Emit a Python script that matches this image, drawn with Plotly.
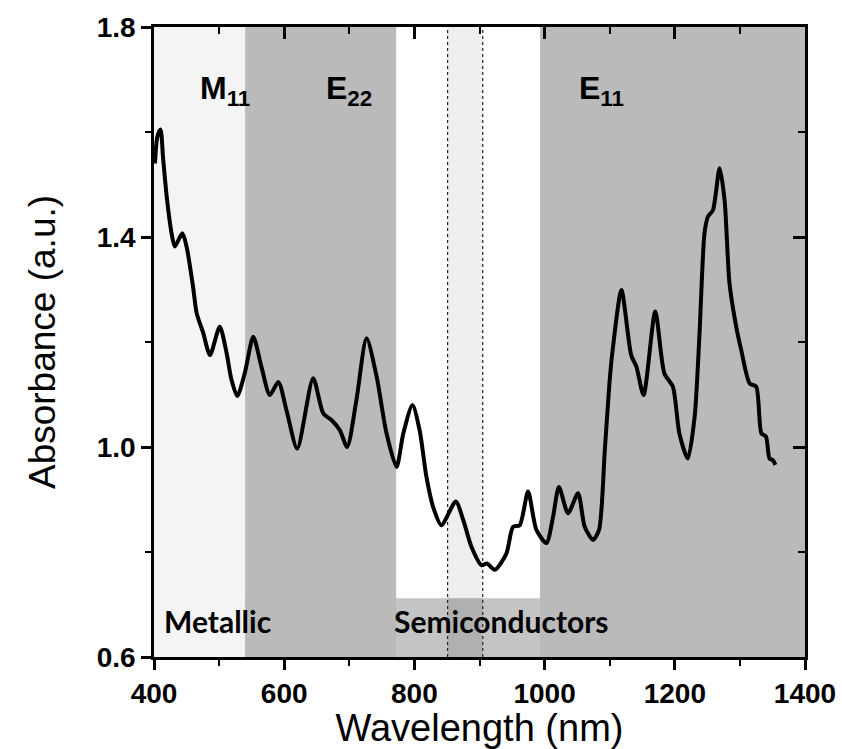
import plotly.graph_objects as go

# ---- data ----
wavelength = [401.5, 405, 410, 414, 419.5, 427, 432, 443.5, 450, 460, 465.5, 475.7, 486, 501,
              511.5, 519, 528, 539.5, 552.5, 565, 578, 591, 603.5, 620, 644.5, 660, 673, 685.5,
              696.7, 711, 726.5, 742, 757, 772.5, 783, 797, 808, 818.5, 828.7, 841.5, 863.5,
              875, 887.6, 903, 911.6, 923.4, 941.3, 951.5, 961.8, 974.6, 987.4, 1002.8, 1013,
              1022, 1036, 1051.4, 1061.6, 1074.4, 1083.6, 1092.5, 1100, 1105, 1118, 1133, 1141,
              1152, 1170, 1184, 1197, 1207, 1220, 1230.5, 1238, 1245.6, 1251, 1258.6, 1268.8,
              1276.5, 1284, 1294.4, 1302, 1315, 1325, 1333, 1340, 1345.5, 1350.6, 1354.6]
absorbance = [1.54, 1.59, 1.605, 1.55, 1.477, 1.407, 1.382, 1.407, 1.382, 1.305, 1.255, 1.217,
              1.175, 1.229, 1.179, 1.128, 1.097, 1.141, 1.210, 1.153, 1.099, 1.124, 1.070, 0.997,
              1.131, 1.064, 1.051, 1.032, 1.000, 1.090, 1.207, 1.134, 1.027, 0.962, 1.026, 1.080,
              1.032, 0.943, 0.886, 0.851, 0.896, 0.861, 0.810, 0.775, 0.778, 0.766, 0.797, 0.848,
              0.851, 0.915, 0.842, 0.817, 0.867, 0.924, 0.874, 0.912, 0.848, 0.823, 0.842, 0.994,
              1.128, 1.19, 1.299, 1.175, 1.153, 1.099, 1.258, 1.140, 1.115, 1.026, 0.978, 1.058,
              1.217, 1.407, 1.439, 1.451, 1.531, 1.470, 1.312, 1.229, 1.185, 1.121, 1.115, 1.026,
              1.020, 0.978, 0.975, 0.966]

# shaded spectral regions (nm)
metallic_region = [400, 540]
e22_region = [540, 772]
dotted_region = [851, 905]
e11_region = [993, 1400]
semi_band = [540, 1400]
semi_band_top = 0.712

x_range = [400, 1400]
y_range = [0.6, 1.8]
x_ticks = [400, 600, 800, 1000, 1200, 1400]
y_ticks = [0.6, 1.0, 1.4, 1.8]
y_tick_text = ["0.6", "1.0", "1.4", "1.8"]

region_labels = [
    ("M<sub>11</sub>", 467, 1.68),
    ("E<sub>22</sub>", 661, 1.68),
    ("E<sub>11</sub>", 1050, 1.68),
]
band_labels = [("Metallic", 412, 0.668), ("Semiconductors", 765, 0.668)]

fig = go.Figure()

shapes = []
def rect(x0, x1, y0, y1, color):
    shapes.append(dict(type="rect", xref="x", yref="y", x0=x0, x1=x1, y0=y0, y1=y1,
                       fillcolor=color, line=dict(width=0), layer="below"))

rect(metallic_region[0], metallic_region[1], y_range[0], y_range[1], "#f4f4f4")
rect(semi_band[0], semi_band[1], y_range[0], semi_band_top, "#c4c4c4")
rect(e22_region[0], e22_region[1], y_range[0], y_range[1], "#bababa")
rect(e11_region[0], e11_region[1], y_range[0], y_range[1], "#bababa")
rect(dotted_region[0], dotted_region[1], semi_band_top, y_range[1], "#eeeeee")
rect(dotted_region[0], dotted_region[1], y_range[0], semi_band_top, "#b0b0b0")
for xv in dotted_region:
    shapes.append(dict(type="line", xref="x", yref="y", x0=xv, x1=xv, y0=y_range[0], y1=y_range[1],
                       line=dict(color="#222", width=1.2, dash="dot"), layer="below"))

fig.add_trace(go.Scatter(x=wavelength, y=absorbance, mode="lines",
                         line=dict(color="black", width=4, shape="spline", smoothing=0.7),
                         showlegend=False, hoverinfo="skip"))
# invisible trace for mirror axes
fig.add_trace(go.Scatter(x=[x_range[0]], y=[y_range[0]], xaxis="x2", yaxis="y2",
                         mode="markers", marker=dict(opacity=0), showlegend=False, hoverinfo="skip"))

annotations = []
for txt, xv, yv in region_labels:
    annotations.append(dict(x=xv, y=yv, xref="x", yref="y", text=txt, showarrow=False,
                            xanchor="left", yanchor="middle",
                            font=dict(family="Liberation Sans", size=32, color="black", weight="bold")))
for txt, xv, yv in band_labels:
    annotations.append(dict(x=xv, y=yv, xref="x", yref="y", text=txt, showarrow=False,
                            xanchor="left", yanchor="middle",
                            font=dict(family="Lato", size=30, color="black", weight="bold")))

tickfont = dict(family="Liberation Sans", size=28, color="black", weight="bold")
fig.update_layout(
    width=842, height=749,
    margin=dict(l=154, r=37, t=27, b=92),
    paper_bgcolor="white", plot_bgcolor="white",
    shapes=shapes, annotations=annotations,
    xaxis=dict(range=x_range, tickvals=x_ticks, ticks="outside", ticklen=10, tickwidth=2.5,
               tickcolor="black", showline=True, linewidth=2.5, linecolor="black",
               showgrid=False, zeroline=False, tickfont=tickfont, automargin=False,
               minor=dict(tickvals=[500, 700, 900, 1100, 1300], ticks="outside", ticklen=6,
                          tickwidth=2, tickcolor="black"),
               title=dict(text="Wavelength (nm)", standoff=8,
                          font=dict(family="Liberation Sans", size=38, color="black"))),
    yaxis=dict(range=y_range, tickvals=y_ticks, ticktext=y_tick_text, ticks="outside", ticklen=10,
               tickwidth=2.5, tickcolor="black", showline=True, linewidth=2.5, linecolor="black",
               showgrid=False, zeroline=False, tickfont=tickfont, automargin=False,
               minor=dict(tickvals=[0.8, 1.2, 1.6], ticks="outside", ticklen=6, tickwidth=2,
                          tickcolor="black"),
               title=dict(text="Absorbance (a.u.)", standoff=30,
                          font=dict(family="Liberation Sans", size=37, color="black"))),
    xaxis2=dict(range=x_range, overlaying="x", side="top", tickvals=x_ticks, ticks="inside",
                ticklen=12, tickwidth=2.5, tickcolor="black", showline=True, linewidth=2.5,
                linecolor="black", showgrid=False, zeroline=False, showticklabels=False,
                automargin=False,
                minor=dict(tickvals=[500, 700, 900, 1100, 1300], ticks="inside", ticklen=7,
                           tickwidth=2, tickcolor="black")),
    yaxis2=dict(range=y_range, overlaying="y", side="right", tickvals=y_ticks, ticks="inside",
                ticklen=12, tickwidth=2.5, tickcolor="black", showline=True, linewidth=2.5,
                linecolor="black", showgrid=False, zeroline=False, showticklabels=False,
                automargin=False,
                minor=dict(tickvals=[0.8, 1.2, 1.6], ticks="inside", ticklen=7, tickwidth=2,
                           tickcolor="black")),
)

fig.write_html("out.html")
